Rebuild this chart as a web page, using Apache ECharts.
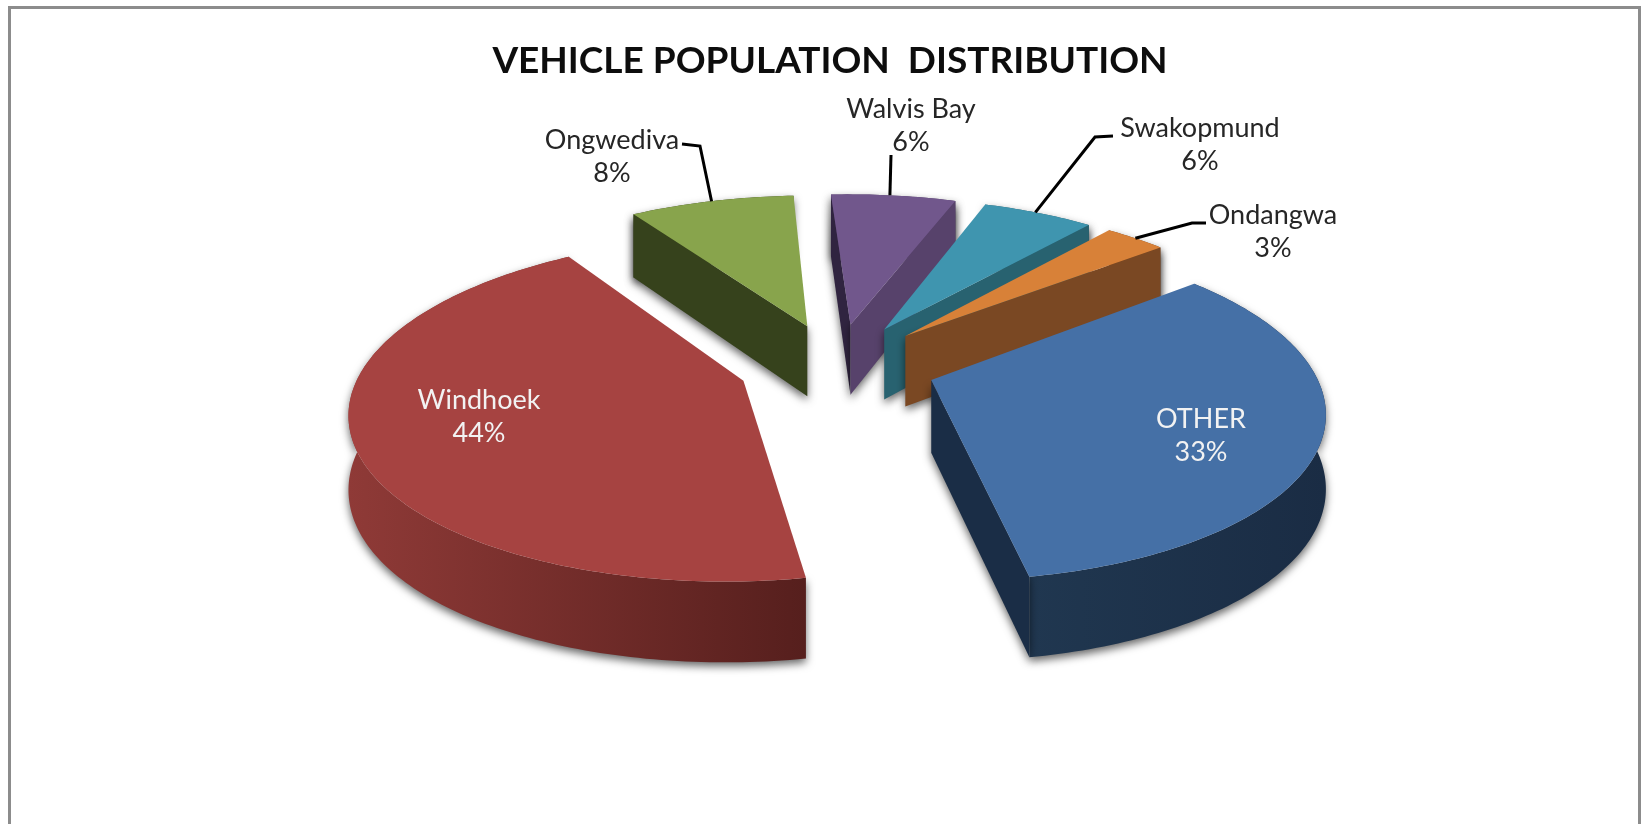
<!DOCTYPE html>
<html>
<head>
<meta charset="utf-8">
<style>html,body{margin:0;padding:0;background:#fff}#c{width:1650px;height:824px}</style>
<script src="https://cdn.jsdelivr.net/npm/echarts@6/dist/echarts.min.js"></script>
</head>
<body>
<div id="c"></div>
<script>
const chartTitle = 'VEHICLE POPULATION  DISTRIBUTION';
const categories = ['OTHER', 'Windhoek', 'Ongwediva', 'Walvis Bay', 'Swakopmund', 'Ondangwa'];
const shares = [33.1, 43.6, 8.3, 6.3, 5.6, 3.1];

const topColors  = ['#4570A6', '#A64341', '#88A44C', '#71578C', '#3F95AF', '#D88138'];
const rimColors  = [['#203750', '#1A2C44'], ['#8F3A37', '#561F1D'], ['#36421C', '#36421C'],
                    ['#57426B', '#57426B'], ['#286270', '#286270'], ['#7A4823', '#7A4823']];
const startWalls = ['#1A2D46', '#561F1D', '#36421C', '#302440', '#286270', '#7A4823'];
const endWalls   = ['#1A2D46', '#561F1D', '#36421C', '#57426B', '#286270', '#7A4823'];
const paintRank  = [5, 4, 0, 1, 2, 3];

const labelAt    = [[1201, 436], [479, 417], [612, 157], [911, 126], [1200, 145], [1273, 232]];
const labelFill  = ['#F2F2F2', '#F2F2F2', '#262626', '#262626', '#262626', '#262626'];
const leaderPath = [null, null, [[682, 144], [700, 146]], [[891, 155]], [[1113, 136], [1095, 137]], [[1206, 223], [1192, 223]]];
const leaderFrac = [0, 0, 0.5, 0.47, 0.47, 0.5];

const scene = { cx: 837, cy: 365, rx: 381, ry: 163, persp: 0.16, depth: 72, depthPersp: 0.7, explode: 0.26, startDeg: 50.8 };

const total = shares.reduce((a, b) => a + b, 0);
function startOf(i) {
  let s = 0;
  for (let k = 0; k < i; k++) s += shares[k];
  return scene.startDeg + s / total * 360;
}
function rad(d) { return d * Math.PI / 180; }
// ground plane (X to the right, Y away from the viewer) to screen
function project(X, Y) {
  const w = 1 + scene.persp * Y;
  return {
    x: scene.cx + scene.rx * X / w,
    y: scene.cy - scene.ry * Y / w,
    drop: scene.depth * (1 - scene.depthPersp * (w - 1))
  };
}
// a radial wall shows only when the drop falls outside the top face
function wallShows(apex, corner, inner) {
  const ex = corner[0] - apex[0], ey = corner[1] - apex[1];
  const cross = ex * (inner[1] - apex[1]) - ey * (inner[0] - apex[0]);
  return cross * ex < 0;
}

function renderSlice(params, api) {
  const i = params.dataIndex;
  const val = api.value(0);
  const a0 = startOf(i);
  const a1 = a0 + val / total * 360;
  const mid = (a0 + a1) / 2;
  const ox = scene.explode * Math.sin(rad(mid));
  const oy = scene.explode * Math.cos(rad(mid));
  const rim = d => project(ox + Math.sin(rad(d)), oy + Math.cos(rad(d)));
  const apex = project(ox, oy);
  const z = 10 + paintRank[i] * 10;
  const shadow = { shadowBlur: 8, shadowColor: 'rgba(0,0,0,0.6)', shadowOffsetY: 4 };
  const topArc = [], botArc = [];
  const steps = Math.max(8, Math.ceil(a1 - a0));
  for (let s = 0; s <= steps; s++) {
    const p = rim(a0 + (a1 - a0) * s / steps);
    topArc.push([p.x, p.y]);
    botArc.push([p.x, p.y + p.drop]);
  }
  const apexTop = [apex.x, apex.y];
  const apexBot = [apex.x, apex.y + apex.drop];
  const inner = topArc[Math.round(steps / 2)];
  const children = [];
  // outer rim, extruded
  children.push({
    type: 'polygon', z2: z,
    shape: { points: topArc.concat(botArc.slice().reverse()) },
    style: Object.assign({
      fill: new echarts.graphic.LinearGradient(0, 0, 1, 0, [
        { offset: 0, color: rimColors[i][0] }, { offset: 1, color: rimColors[i][1] }
      ])
    }, shadow)
  });
  // the radial walls that face the viewer
  if (wallShows(apexTop, topArc[0], inner)) {
    children.push({
      type: 'polygon', z2: z + 1,
      shape: { points: [apexTop, topArc[0], botArc[0], apexBot] },
      style: Object.assign({ fill: startWalls[i] }, shadow)
    });
  }
  if (wallShows(apexTop, topArc[steps], inner)) {
    children.push({
      type: 'polygon', z2: z + 2,
      shape: { points: [apexTop, topArc[steps], botArc[steps], apexBot] },
      style: Object.assign({ fill: endWalls[i] }, shadow)
    });
  }
  // top face
  children.push({
    type: 'polygon', z2: z + 3,
    shape: { points: [apexTop].concat(topArc) },
    style: { fill: topColors[i] }
  });
  // leader line, ending on the rim of the slice
  if (leaderPath[i]) {
    const p = rim(a0 + (a1 - a0) * leaderFrac[i]);
    children.push({
      type: 'polyline', z2: 200,
      shape: { points: leaderPath[i].concat([[p.x, p.y]]) },
      style: { stroke: '#000', lineWidth: 3, fill: null }
    });
  }
  // label
  children.push({
    type: 'text', z2: 210,
    x: labelAt[i][0], y: labelAt[i][1],
    style: {
      text: categories[i] + '\n' + Math.round(val) + '%',
      fill: labelFill[i], fontFamily: 'Lato', fontSize: 27, lineHeight: 33,
      align: 'center', verticalAlign: 'middle'
    }
  });
  return { type: 'group', children };
}

const chart = echarts.init(document.getElementById('c'), null, { renderer: 'canvas' });
chart.setOption({
  backgroundColor: '#fff',
  animation: false,
  title: {
    text: chartTitle, left: 825, top: 38, textAlign: 'center',
    textStyle: { fontFamily: 'Lato', fontWeight: 'bold', fontSize: 37, color: '#0d0d0d' }
  },
  graphic: [{
    type: 'rect', silent: true, z: 0,
    shape: { x: 9.5, y: 7.5, width: 1630, height: 840 },
    style: { fill: 'none', stroke: '#8C8C8C', lineWidth: 3 }
  }],
  series: [{
    type: 'custom',
    coordinateSystem: 'none',
    silent: true,
    z: 5,
    renderItem: renderSlice,
    data: shares.map(v => [v])
  }]
});
</script>
</body>
</html>
